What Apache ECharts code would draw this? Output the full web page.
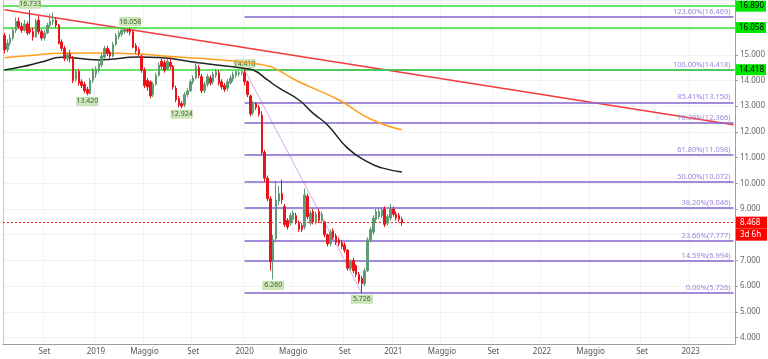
<!DOCTYPE html>
<html>
<head>
<meta charset="utf-8">
<script src="https://cdn.jsdelivr.net/npm/echarts@6/dist/echarts.min.js"></script>
<style>
  html, body { margin: 0; padding: 0; background: #fff; }
  #chart { width: 768px; height: 359px; }
</style>
</head>
<body>
<div id="chart"></div>
<script>
// settimane (lunedi) dal 2018-05-21
var weeks = []
for (var i = 0; i < 256; i++) {
  weeks.push(new Date(Date.UTC(2018, 4, 21) + i * 7 * 864e5).toISOString().slice(0, 10))
}

// candele settimanali
var opens = [15.75,15.20,15.45,15.65,15.95,16.30,16.10,15.95,16.20,16.00,15.90,15.70,16.35,15.90,15.65,15.85,16.15,16.30,16.35,16.15,
  15.50,15.25,14.85,15.05,14.85,14.05,14.35,13.95,13.85,13.65,13.50,14.00,14.25,14.40,14.60,14.90,15.25,15.10,14.95,15.40,
  15.70,15.80,15.90,15.95,15.95,15.90,15.35,15.20,14.95,14.40,14.00,13.95,13.45,13.85,14.20,14.75,14.70,14.45,14.70,14.55,
  13.70,13.30,13.10,13.05,13.45,13.60,13.95,14.10,14.50,14.15,13.60,13.85,14.10,13.95,14.20,14.30,13.95,13.80,13.70,13.90,
  14.05,14.20,14.25,14.30,14.30,13.95,13.40,12.75,13.10,12.95,12.65,11.20,10.20,9.40,6.95,7.85,9.30,9.60,9.10,8.55,
  8.45,8.60,8.75,8.45,8.35,8.30,9.50,8.45,8.90,8.50,8.90,8.55,8.50,8.00,7.65,8.15,7.95,7.80,7.70,7.60,
  7.40,6.70,7.00,6.80,6.45,6.30,6.10,6.60,7.80,8.10,8.60,8.70,8.75,9.00,8.45,8.65,9.00,8.80,8.75,8.60]
var closes = [15.20,15.45,15.65,15.95,16.30,16.10,15.95,16.20,15.85,15.90,15.70,16.30,15.90,15.65,15.85,16.15,16.30,16.35,16.15,15.45,
  15.25,14.85,15.00,14.85,14.00,14.35,13.90,13.80,13.60,13.50,14.00,14.40,14.45,14.65,14.95,15.25,15.05,14.95,15.40,15.75,
  15.85,15.95,16.00,15.92,15.88,15.30,15.15,15.05,14.40,13.80,13.75,13.40,13.85,14.20,14.60,14.55,14.40,14.75,14.55,13.75,
  13.25,13.05,13.00,13.45,13.60,13.95,14.10,14.55,14.20,13.60,13.85,14.15,13.90,14.25,14.35,13.90,13.75,13.65,13.95,14.10,
  14.25,14.35,14.30,14.35,13.95,13.45,12.70,13.10,12.95,12.70,11.20,10.20,9.40,6.95,7.80,9.35,9.60,9.35,8.40,8.30,
  8.75,8.85,8.50,8.20,8.20,9.55,8.70,8.85,8.50,8.80,8.55,8.80,8.00,7.65,8.10,7.90,7.70,7.65,7.55,7.40,
  6.70,6.95,6.60,6.45,6.20,6.10,6.60,7.80,8.20,8.65,8.90,8.90,8.95,8.40,8.70,9.00,8.80,8.65,8.60,8.468]
var lows = [15.05,15.10,15.35,15.55,15.85,16.00,15.85,15.90,15.75,15.80,15.55,15.65,15.80,15.55,15.55,15.80,16.05,16.15,16.05,15.40,
  15.15,14.75,14.75,14.70,13.90,13.95,13.80,13.70,13.50,13.42,13.45,13.90,14.10,14.30,14.50,14.85,14.95,14.85,14.90,15.35,
  15.60,15.70,15.80,15.85,15.75,15.25,15.05,14.95,14.30,13.70,13.60,13.30,13.35,13.80,14.15,14.45,14.30,14.40,14.45,13.65,
  13.15,12.95,12.924,12.95,13.35,13.55,13.85,14.05,14.10,13.50,13.50,13.75,13.80,13.85,14.10,13.80,13.65,13.55,13.60,13.85,
  13.95,14.10,14.15,14.20,13.80,13.35,12.60,12.65,12.85,12.60,11.10,10.05,9.30,6.60,6.26,7.70,9.15,9.20,8.30,8.20,
  8.35,8.50,8.40,8.10,8.10,8.20,8.60,8.35,8.40,8.40,8.45,8.45,7.90,7.55,7.55,7.80,7.60,7.55,7.45,7.30,
  6.60,6.60,6.50,6.35,6.10,5.726,6.00,6.55,7.70,8.00,8.50,8.60,8.65,8.30,8.35,8.55,8.70,8.55,8.50,8.35]
var highs = [15.85,15.60,15.80,16.05,16.45,16.45,16.25,16.35,16.30,16.733,16.05,16.40,16.50,16.00,15.95,16.25,16.60,16.65,16.45,16.20,
  15.60,15.35,15.10,15.20,14.95,14.45,14.45,14.05,13.95,13.75,14.10,14.50,14.55,14.75,15.05,15.35,15.35,15.20,15.50,15.85,
  15.95,16.00,16.02,16.00,16.058,15.95,15.45,15.30,15.00,14.50,14.10,14.00,13.95,14.30,14.70,14.85,14.80,14.85,14.90,14.60,
  13.80,13.40,13.20,13.55,13.70,14.05,14.20,14.70,14.60,14.25,13.95,14.25,14.20,14.35,14.45,14.40,14.05,13.90,14.05,14.20,
  14.35,14.40,14.40,14.40,14.418,14.00,13.45,13.20,13.15,13.05,12.80,11.30,10.30,9.50,8.00,10.10,9.90,10.15,9.20,8.65,
  8.85,8.95,8.85,8.55,8.45,9.80,9.60,8.95,9.00,8.90,9.00,8.90,8.55,8.05,8.20,8.25,8.05,7.90,7.80,7.70,
  7.45,7.05,7.10,6.85,6.55,6.40,6.70,7.90,8.30,8.75,9.00,9.00,9.05,9.10,8.80,9.20,9.10,8.90,8.85,8.70]

// etichette massimi / minimi [indice settimana, valore, sopra(1)/sotto(-1)]
var pivotIdx = [9, 29, 44, 62, 84, 94, 125]
var pivotVal = [16.733, 13.420, 16.058, 12.924, 14.418, 6.260, 5.726]
var pivotSide = [1, -1, 1, -1, 1, -1, -1]

// medie mobili
var maOrangeIdx = [0, 9, 20, 33, 47, 58, 68, 79, 84, 89, 93, 96, 103, 117, 128, 139]
var maOrangeVal = [14.88, 14.97, 15.06, 15.07, 15.03, 14.93, 14.86, 14.77, 14.71, 14.63, 14.54, 14.38, 13.95, 13.24, 12.50, 12.08]
var maBlackIdx = [0, 6, 13, 20, 33, 47, 54, 68, 79, 84, 87, 92, 96, 103, 108, 113, 120, 127, 132, 139]
var maBlackVal = [14.41, 14.53, 14.72, 14.90, 14.80, 14.91, 14.89, 14.69, 14.54, 14.47, 14.41, 14.02, 13.71, 13.24, 12.72, 12.27, 11.37, 10.83, 10.60, 10.44]

// trendline rossa
var trendIdx = [0, 255]
var trendVal = [16.75, 12.28]

// livelli
var greenLevels = [16.890, 16.058, 14.418]
var fibNames = ['123.60%', '100.00%', '85.41%', '76.39%', '61.80%', '50.00%', '38.20%', '23.60%', '14.59%', '0.00%']
var fibValues = [16.469, 14.418, 13.150, 12.366, 11.098, 10.072, 9.046, 7.777, 6.994, 5.726]
var fibFrom = 84
var fibTo = 255
var fibDiagIdx = [84, 125]
var fibDiagVal = [14.418, 5.726]
var lastPrice = 8.468
var countdown = '3d 6h'

var FONT = 'Noto Sans'

function monthMark(v) {
  var t = Date.parse(v)
  for (var k = 0; k < 7; k++) {
    var d = new Date(t + k * 864e5)
    if (d.getUTCDate() === 1) {
      var m = d.getUTCMonth()
      if (m === 0) return String(d.getUTCFullYear())
      if (m === 4) return 'Maggio'
      if (m === 8) return 'Set'
    }
  }
  return ''
}
function showMark(i, v) { return monthMark(v) !== '' }

var candles = opens.map(function (o, i) { return [o, closes[i], lows[i], highs[i]] })

var myChart = echarts.init(document.getElementById('chart'))
var option = {
  animation: false,
  backgroundColor: '#ffffff',
  grid: { left: 3, right: 31, top: 0, bottom: 15 },
  xAxis: {
    type: 'category',
    data: weeks,
    boundaryGap: true,
    axisLine: { lineStyle: { color: '#9e9e9e' } },
    axisTick: { interval: showMark, alignWithLabel: true, length: 3, lineStyle: { color: '#9e9e9e' } },
    axisLabel: {
      interval: showMark, formatter: monthMark, fontSize: 8, color: '#555',
      margin: 4, fontFamily: FONT
    },
    splitLine: { show: true, interval: showMark, lineStyle: { color: '#f2f2f2' } }
  },
  yAxis: [
    {
      type: 'value',
      position: 'right',
      min: 3.75,
      max: 17.13,
      splitNumber: 13,
      axisLine: { show: true, lineStyle: { color: '#9e9e9e' } },
      axisTick: { show: true, length: 3, lineStyle: { color: '#9e9e9e' } },
      axisLabel: {
        fontSize: 8, color: '#666', margin: 5, fontFamily: FONT,
        showMinLabel: false, showMaxLabel: false,
        formatter: function (v) {
          if (Math.abs(v - Math.round(v)) > 1e-6) return ''
          if (v === 8 || v === 16 || v === 17) return ''
          return v.toFixed(3)
        }
      },
      splitLine: { show: true, lineStyle: { color: '#f2f2f2' } }
    },
    {
      type: 'value',
      position: 'left',
      min: 3.75,
      max: 17.13,
      axisLine: { show: true, lineStyle: { color: '#c8c8c8' } },
      axisTick: { show: false },
      axisLabel: { show: false },
      splitLine: { show: false }
    }
  ],
  series: [
    {
      name: 'fib',
      type: 'line',
      data: [],
      z: 3,
      markLine: {
        silent: true,
        symbol: ['none', 'none'],
        data: fibValues.map(function (v, i) {
          return [
            {
              coord: [fibFrom, v],
              lineStyle: { color: '#8564cf', width: 1.5, type: 'solid' },
              label: {
                show: true, position: 'insideEndTop', distance: [3, 1],
                formatter: fibNames[i] + '(' + v.toFixed(3) + ')',
                color: '#9a86d8', fontSize: 7.5, fontFamily: FONT
              }
            },
            { coord: [fibTo, v] }
          ]
        })
      }
    },
    {
      name: 'livelli',
      type: 'line',
      data: [],
      z: 2,
      markLine: {
        silent: true,
        symbol: ['none', 'none'],
        data: greenLevels.map(function (v) {
          return {
            yAxis: v,
            lineStyle: { color: '#33dd33', width: 1.5, type: 'solid' },
            label: {
              show: true, position: 'end', distance: 1,
              formatter: v.toFixed(3),
              backgroundColor: '#00e600', color: '#000', padding: [2, 2, 1, 3],
              fontSize: 8, fontFamily: FONT
            }
          }
        })
      }
    },
    {
      name: 'trend',
      type: 'line',
      data: trendIdx.map(function (x, i) { return [x, trendVal[i]] }),
      showSymbol: false,
      lineStyle: { color: '#f23b3b', width: 1.5 },
      z: 4
    },
    {
      name: 'fibDiag',
      type: 'line',
      data: fibDiagIdx.map(function (x, i) { return [x, fibDiagVal[i]] }),
      showSymbol: false,
      lineStyle: { color: '#d7a9e6', width: 1 },
      z: 4
    },
    {
      name: 'maOrange',
      type: 'line',
      smooth: true,
      data: maOrangeIdx.map(function (x, i) { return [x, maOrangeVal[i]] }),
      showSymbol: false,
      lineStyle: { color: '#ff9f1a', width: 1.5 },
      z: 5
    },
    {
      name: 'maBlack',
      type: 'line',
      smooth: true,
      data: maBlackIdx.map(function (x, i) { return [x, maBlackVal[i]] }),
      showSymbol: false,
      lineStyle: { color: '#222', width: 1.5 },
      z: 5
    },
    {
      name: 'prezzoLinea',
      type: 'line',
      data: [],
      z: 3,
      markLine: {
        silent: true,
        symbol: ['none', 'none'],
        lineStyle: { color: '#ff2020', width: 1, type: [2, 2] },
        data: [{
          yAxis: lastPrice,
          lineStyle: { color: '#ff2020', width: 1, type: [2, 2] },
          label: {
            show: true, position: 'end', distance: 1, offset: [0, 6],
            formatter: '{a|' + lastPrice.toFixed(3) + '}\n{b|' + countdown + '}',
            rich: {
              a: { backgroundColor: '#ff0000', color: '#fff', fontSize: 8, width: 25, height: 12, padding: [0, 2, 0, 4], fontFamily: FONT },
              b: { backgroundColor: '#ff0000', color: '#fff', fontSize: 8, width: 25, height: 12, padding: [0, 2, 0, 4], fontFamily: FONT }
            }
          }
        }]
      }
    },
    {
      name: 'prezzo',
      type: 'candlestick',
      data: candles,
      barWidth: 2,
      z: 6,
      itemStyle: {
        color: '#5f9a74', color0: '#e8141b',
        borderColor: '#5f9a74', borderColor0: '#e8141b', borderWidth: 1
      },
      markPoint: {
        silent: true,
        symbol: 'rect',
        symbolSize: [21, 8],
        itemStyle: { color: '#cfe8bd', borderColor: '#a5d08a', borderWidth: 0.5 },
        label: { show: true, position: 'inside', color: '#3b5f2b', fontSize: 7, fontFamily: FONT },
        data: pivotIdx.map(function (x, i) {
          return {
            coord: [x, pivotVal[i]],
            value: pivotVal[i].toFixed(3),
            symbolOffset: [0, pivotSide[i] > 0 ? -6 : 6]
          }
        })
      }
    }
  ]
}
myChart.setOption(option)
</script>
</body>
</html>
